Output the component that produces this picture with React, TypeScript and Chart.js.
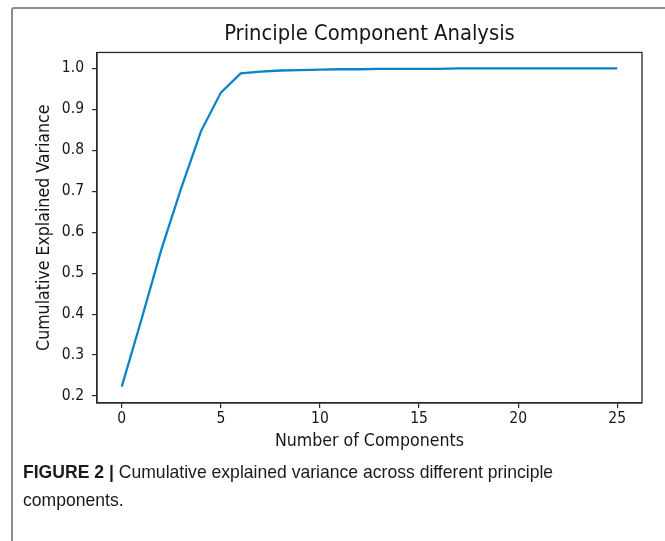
import React, { useEffect, useRef } from "react";
import { Chart, registerables } from "chart.js";

Chart.register(...registerables);

const components = [0, 1, 2, 3, 4, 5, 6, 7, 8, 9, 10, 11, 12, 13, 14, 15, 16, 17, 18, 19, 20, 21, 22, 23, 24, 25];
const cumulativeVariance = [
  0.223, 0.388, 0.558, 0.708, 0.847, 0.941, 0.988, 0.992, 0.995, 0.996,
  0.997, 0.998, 0.998, 0.999, 0.999, 0.999, 0.999, 1.0, 1.0, 1.0,
  1.0, 1.0, 1.0, 1.0, 1.0, 1.0,
];
const xTickValues = [0, 5, 10, 15, 20, 25];
const yTickValues = [0.2, 0.3, 0.4, 0.5, 0.6, 0.7, 0.8, 0.9, 1.0];

const TITLE = "Principle Component Analysis";
const X_LABEL = "Number of Components";
const Y_LABEL = "Cumulative Explained Variance";

const FONT = "'DejaVu Sans Condensed', 'DejaVu Sans', sans-serif";
const AXIS_COLOR = "#2a2a2a";
const TEXT_COLOR = "#161616";

const boxPlugin = {
  id: "boxPlugin",
  afterDatasetsDraw(chart: any) {
    const { ctx, chartArea } = chart;
    ctx.save();
    ctx.strokeStyle = AXIS_COLOR;
    ctx.lineWidth = 1.3;
    ctx.strokeRect(chartArea.left, chartArea.top, chartArea.right - chartArea.left, chartArea.bottom - chartArea.top);
    ctx.restore();
  },
};

export default function App() {
  const canvasRef = useRef<HTMLCanvasElement | null>(null);

  useEffect(() => {
    if (!canvasRef.current) return;
    const chart = new Chart(canvasRef.current, {
      type: "line",
      data: {
        datasets: [
          {
            data: components.map((c, i) => ({ x: c, y: cumulativeVariance[i] })),
            borderColor: "#0a84c6",
            borderWidth: 2.3,
            pointRadius: 0,
            tension: 0,
            fill: false,
          },
        ],
      },
      options: {
        responsive: false,
        animation: false,
        layout: { padding: { left: 0, right: 23, top: 21, bottom: 88 } },
        plugins: {
          legend: { display: false },
          tooltip: { enabled: false },
          title: {
            display: true,
            fullSize: false,
            text: TITLE,
            color: TEXT_COLOR,
            font: { family: FONT, size: 21.8, weight: "normal" },
            padding: { top: 0, bottom: 5.3 },
          },
        },
        scales: {
          x: {
            type: "linear",
            min: -1.25,
            max: 26.25,
            afterBuildTicks: (s: any) => {
              s.ticks = xTickValues.map((v) => ({ value: v }));
            },
            afterFit: (s: any) => {
              s.height = 50;
            },
            ticks: {
              callback: (v: any) => String(v),
              color: TEXT_COLOR,
              font: { family: FONT, size: 15.5 },
              padding: 2,
              maxRotation: 0,
              autoSkip: false,
            },
            grid: { display: true, drawOnChartArea: false, drawTicks: true, tickLength: 5, color: AXIS_COLOR, lineWidth: 1.2 },
            border: { display: true, color: AXIS_COLOR, width: 1.3 },
            title: {
              display: true,
              text: X_LABEL,
              color: TEXT_COLOR,
              font: { family: FONT, size: 17.6 },
              padding: { top: 2, bottom: 1 },
            },
          },
          y: {
            type: "linear",
            min: 0.183,
            max: 1.039,
            afterBuildTicks: (s: any) => {
              s.ticks = yTickValues.map((v) => ({ value: v }));
            },
            afterFit: (s: any) => {
              s.width = 97;
            },
            ticks: {
              callback: (v: any) => Number(v).toFixed(1),
              color: TEXT_COLOR,
              font: { family: FONT, size: 15.5 },
              padding: 8,
              autoSkip: false,
            },
            grid: { display: true, drawOnChartArea: false, drawTicks: true, tickLength: 5, color: AXIS_COLOR, lineWidth: 1.2 },
            border: { display: true, color: AXIS_COLOR, width: 1.3 },
            title: {
              display: true,
              text: Y_LABEL,
              color: TEXT_COLOR,
              font: { family: FONT, size: 17.6 },
              padding: { top: 33.5, bottom: 0 },
            },
          },
        },
      },
      plugins: [boxPlugin],
    });
    return () => chart.destroy();
  }, []);

  return (
    <div
      style={{
        position: "absolute",
        left: 0,
        top: 0,
        width: 665,
        height: 541,
        overflow: "hidden",
        background: "#fff",
      }}
    >
      <div
        style={{
          position: "absolute",
          left: 11,
          top: 7,
          width: 700,
          height: 600,
          border: "2px solid #8a8a8a",
          borderRadius: 3,
          boxSizing: "border-box",
        }}
      />
      <canvas
        ref={canvasRef}
        width={665}
        height={541}
        style={{ position: "absolute", left: 0, top: 0, width: 665, height: 541 }}
      />
      <div
        style={{
          position: "absolute",
          left: 23,
          top: 458,
          width: 680,
          transform: "scaleX(0.925)",
          transformOrigin: "left top",
          fontFamily: "'Liberation Sans', Arial, sans-serif",
          fontSize: 19,
          lineHeight: "28px",
          color: "#1a1a1a",
        }}
      >
        <span style={{ fontWeight: "bold" }}>FIGURE 2 |</span> Cumulative explained variance across different principle
        <br />
        components.
      </div>
    </div>
  );
}
